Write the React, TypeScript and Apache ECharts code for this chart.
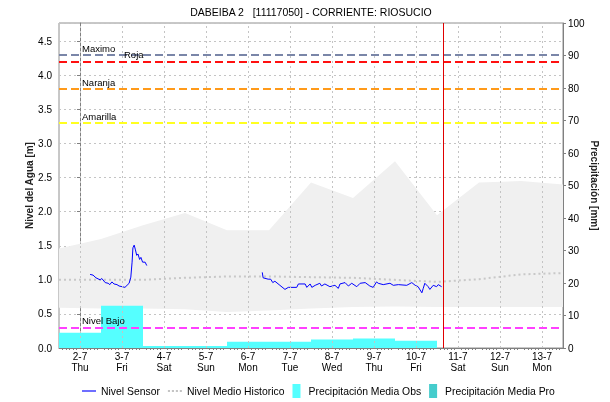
import React, { useEffect, useRef } from 'react';
import * as echarts from 'echarts';

const titleText = 'DABEIBA 2   [11117050] - CORRIENTE: RIOSUCIO';
const dayLabels = ['2-7', '3-7', '4-7', '5-7', '6-7', '7-7', '8-7', '9-7', '10-7', '11-7', '12-7', '13-7'];
const weekdayLabels = ['Thu', 'Fri', 'Sat', 'Sun', 'Mon', 'Tue', 'Wed', 'Thu', 'Fri', 'Sat', 'Sun', 'Mon'];

// precipitation (mm) per day index
const precipObs = [4.7, 13.0, 0.6, 0.6, 1.9, 1.9, 2.6, 2.9, 2.2];
const precipPro: number[] = [];

// historic band and mean (m), at half-day positions
const bandDays = [-0.5, 0.5, 1.5, 2.5, 3.5, 4.5, 5.5, 6.5, 7.5, 8.5, 9.5, 10.5, 11.5];
const bandUpper = [1.46, 1.6, 1.8, 1.98, 1.73, 1.73, 2.43, 2.2, 2.74, 1.95, 2.43, 2.45, 2.4];
const bandLower = [0.59, 0.58, 0.58, 0.57, 0.53, 0.55, 0.58, 0.6, 0.61, 0.6, 0.6, 0.6, 0.6];
const histMean = [1.0, 1.0, 1.0, 1.03, 1.05, 1.05, 1.04, 1.03, 1.0, 0.97, 1.01, 1.08, 1.1];

// sensor level (m)
const sensorDay = [
  0.24, 0.31, 0.38, 0.48, 0.52, 0.6, 0.67, 0.71, 0.76, 0.81, 0.88, 0.93, 1.0, 1.07, 1.12, 1.17, 1.21, 1.24,
  1.26, 1.29, 1.32, 1.35, 1.38, 1.42, 1.45, 1.49, 1.55, 1.59,
  3.0,
  4.34, 4.36, 4.48, 4.54, 4.59, 4.64, 4.76, 4.88, 4.96, 5.16, 5.2, 5.36, 5.4, 5.48, 5.52, 5.6, 5.71, 5.75,
  5.83, 5.95, 6.07, 6.15, 6.19, 6.31, 6.39, 6.47, 6.59, 6.67, 6.79, 6.9, 6.98, 7.06, 7.1, 7.22, 7.38, 7.46,
  7.58, 7.78, 7.9, 7.98, 8.05, 8.14, 8.17, 8.21, 8.29, 8.33, 8.41, 8.49, 8.53, 8.61,
];
const sensorLevel = [
  1.08, 1.07, 1.03, 1.0, 1.02, 0.96, 0.95, 0.93, 0.97, 0.94, 0.93, 0.91, 0.9, 0.89, 0.92, 0.95, 1.04, 1.26,
  1.47, 1.51, 1.44, 1.36, 1.38, 1.3, 1.33, 1.26, 1.26, 1.21,
  null,
  1.11, 1.03, 1.01, 1.01, 0.96, 0.98, 0.92, 0.86, 0.89, 0.89, 0.94, 0.94, 0.89, 0.94, 0.89, 0.92, 0.95, 0.91,
  0.94, 0.9, 0.92, 0.875, 0.94, 0.96, 0.91, 0.95, 0.9, 0.95, 0.96, 0.91, 0.89, 0.97, 0.95, 0.93, 0.95, 0.92,
  0.93, 0.92, 0.96, 0.92, 0.9, 0.81, 0.87, 0.95, 0.9, 0.86, 0.92, 0.9, 0.93, 0.9,
];

const thresholdNames = ['Maximo', 'Roja', 'Naranja', 'Amarilla', 'Nivel Bajo'];
const thresholdLevels = [4.3, 4.2, 3.8, 3.3, 0.3];
const thresholdColors = ['#7a86a8', '#ff1010', '#ff9a1a', '#ffff20', '#ff40ff'];
const thresholdLabelPad = [21, 63, 21, 21, 21];

const nowDay = 8.64;

const FONT = 'Liberation Sans, Arial, sans-serif';

export default function App() {
  const ref = useRef<HTMLDivElement>(null);
  useEffect(() => {
    const chart = echarts.init(ref.current!, null, { renderer: 'svg' });

    const thresholdMarks: any[] = thresholdNames.map((n, i) => ({
      name: n,
      yAxis: thresholdLevels[i],
      lineStyle: { color: thresholdColors[i], type: [8, 4], width: 2 },
      label: {
        show: true,
        formatter: '{b}',
        position: 'insideStartTop',
        distance: 2,
        padding: [0, 0, 0, thresholdLabelPad[i]],
        color: '#000',
        fontSize: 9.5,
        fontFamily: FONT,
      },
    }));
    thresholdMarks.push({
      xAxis: nowDay,
      lineStyle: { color: '#e00000', type: 'solid', width: 1 },
      label: { show: false },
    });

    const option: any = {
      animation: false,
      textStyle: { fontFamily: FONT },
      title: {
        text: titleText,
        left: 311,
        top: 6,
        padding: 0,
        textAlign: 'center',
        textStyle: { fontSize: 10.5, fontWeight: 'normal', color: '#000', fontFamily: FONT },
      },
      legend: {
        top: 384,
        left: 82,
        padding: 0,
        itemWidth: 14,
        itemHeight: 14,
        itemGap: 8,
        textStyle: { fontSize: 10.4, color: '#000', fontFamily: FONT },
        data: [
          { name: 'Nivel Sensor', icon: 'path://M0,0H16V1.3H0Z', itemStyle: { color: '#0000ff' } },
          {
            name: 'Nivel Medio Historico',
            icon: 'path://M0,0h2.4v2.4h-2.4zM4.5,0h2.4v2.4h-2.4zM9,0h2.4v2.4h-2.4zM13.5,0h2.4v2.4h-2.4z',
            itemStyle: { color: '#c4c4c4' },
          },
          { name: 'Precipitación Media Obs', icon: 'path://M0,0L8,0L8,14L0,14Z', itemStyle: { color: '#55ffff' } },
          { name: 'Precipitación Media Pro', icon: 'path://M0,0L8,0L8,14L0,14Z', itemStyle: { color: '#45cccc' } },
        ],
      },
      grid: {
        left: 59,
        right: 47,
        top: 23,
        bottom: 54,
        show: true,
        borderColor: '#909090',
        borderWidth: 1,
        backgroundColor: 'transparent',
      },
      xAxis: {
        type: 'value',
        min: -0.5,
        max: 11.5,
        interval: 0.5,
        axisLine: { show: true, lineStyle: { color: '#808080' } },
        axisTick: { show: false },
        minorTick: { show: true, splitNumber: 6, length: 2, lineStyle: { color: '#808080' } },
        splitLine: { show: false },
        axisLabel: {
          color: '#000',
          fontSize: 10,
          lineHeight: 11,
          margin: 3,
          showMinLabel: false,
          showMaxLabel: false,
          formatter: (v: number) => {
            const r = Math.round(v);
            if (Math.abs(v - r) > 1e-6 || r < 0 || r >= dayLabels.length) return '';
            return dayLabels[r] + '\n' + weekdayLabels[r];
          },
        },
      },
      yAxis: [
        {
          type: 'value',
          min: 0,
          max: 4.77,
          interval: 0.5,
          position: 'left',
          name: 'Nivel del Agua [m]',
          nameLocation: 'middle',
          nameGap: 25,
          nameMoveOverlap: false,
          nameTextStyle: { fontSize: 10, fontWeight: 'bold', color: '#222', fontFamily: FONT },
          axisLine: { show: true, lineStyle: { color: '#808080' } },
          axisTick: { show: true, length: 3, lineStyle: { color: '#808080' } },
          axisLabel: {
            color: '#000',
            fontSize: 10,
            margin: 7,
            showMaxLabel: false,
            formatter: (v: number) => v.toFixed(1),
          },
          splitLine: { show: true, lineStyle: { color: '#c4c4c4', type: [2, 3], width: 1 } },
        },
        {
          type: 'value',
          min: 0,
          max: 100,
          interval: 10,
          position: 'right',
          name: 'Precipitación [mm]',
          nameLocation: 'middle',
          nameRotate: -90,
          nameGap: 26,
          nameMoveOverlap: false,
          nameTextStyle: { fontSize: 10, fontWeight: 'bold', color: '#222', fontFamily: FONT },
          axisLine: { show: true, lineStyle: { color: '#808080' } },
          axisTick: { show: true, length: 3, lineStyle: { color: '#808080' } },
          axisLabel: { color: '#000', fontSize: 10, margin: 5 },
          splitLine: { show: false },
        },
      ],
      series: [
        {
          name: 'band',
          type: 'custom',
          coordinateSystem: 'cartesian2d',
          yAxisIndex: 0,
          silent: true,
          z: 1,
          data: [[0, 0]],
          renderItem: (params: any, api: any) => {
            const pts: number[][] = [];
            for (let i = 0; i < bandDays.length; i++) pts.push(api.coord([bandDays[i], bandUpper[i]]));
            for (let i = bandDays.length - 1; i >= 0; i--) pts.push(api.coord([bandDays[i], bandLower[i]]));
            return { type: 'polygon', shape: { points: pts }, style: { fill: '#f0f0f0' } };
          },
        },
        {
          name: 'Precipitación Media Obs',
          type: 'custom',
          coordinateSystem: 'cartesian2d',
          yAxisIndex: 1,
          z: 2,
          itemStyle: { color: '#55ffff' },
          data: precipObs.map((v, i) => [i, v]),
          renderItem: (params: any, api: any) => {
            const d = api.value(0);
            const v = api.value(1);
            const p0 = api.coord([d - 0.5, v]);
            const p1 = api.coord([d + 0.5, 0]);
            return {
              type: 'rect',
              shape: { x: p0[0], y: p0[1], width: p1[0] - p0[0], height: p1[1] - p0[1] },
              style: { fill: '#55ffff' },
            };
          },
        },
        {
          name: 'Precipitación Media Pro',
          type: 'custom',
          coordinateSystem: 'cartesian2d',
          yAxisIndex: 1,
          z: 2,
          itemStyle: { color: '#45cccc' },
          data: precipPro.map((v, i) => [i, v]),
          renderItem: (params: any, api: any) => {
            const d = api.value(0);
            const v = api.value(1);
            const p0 = api.coord([d - 0.5, v]);
            const p1 = api.coord([d + 0.5, 0]);
            return {
              type: 'rect',
              shape: { x: p0[0], y: p0[1], width: p1[0] - p0[0], height: p1[1] - p0[1] },
              style: { fill: '#45cccc' },
            };
          },
        },
        {
          name: 'Nivel Medio Historico',
          type: 'line',
          yAxisIndex: 0,
          z: 3,
          symbol: 'none',
          lineStyle: { color: '#c8c8c8', width: 2, type: [2, 3] },
          itemStyle: { color: '#c8c8c8' },
          data: bandDays.map((d, i) => [d, histMean[i]]),
          markLine: {
            silent: true,
            symbol: 'none',
            label: { show: false },
            lineStyle: { color: '#c4c4c4', type: [2, 3], width: 1 },
            data: dayLabels.map((_, i) => ({ xAxis: i })),
          },
        },
        {
          name: 'Nivel Sensor',
          type: 'line',
          yAxisIndex: 0,
          z: 4,
          symbol: 'none',
          connectNulls: false,
          lineStyle: { color: '#0000ff', width: 1 },
          itemStyle: { color: '#0000ff' },
          data: sensorDay.map((d, i) => [d, sensorLevel[i]]),
          markLine: {
            silent: true,
            symbol: 'none',
            data: thresholdMarks,
          },
        },
      ],
    };

    chart.setOption(option);
    return () => chart.dispose();
  }, []);

  return <div ref={ref} style={{ position: 'fixed', left: 0, top: 0, width: 610, height: 402 }} />;
}
